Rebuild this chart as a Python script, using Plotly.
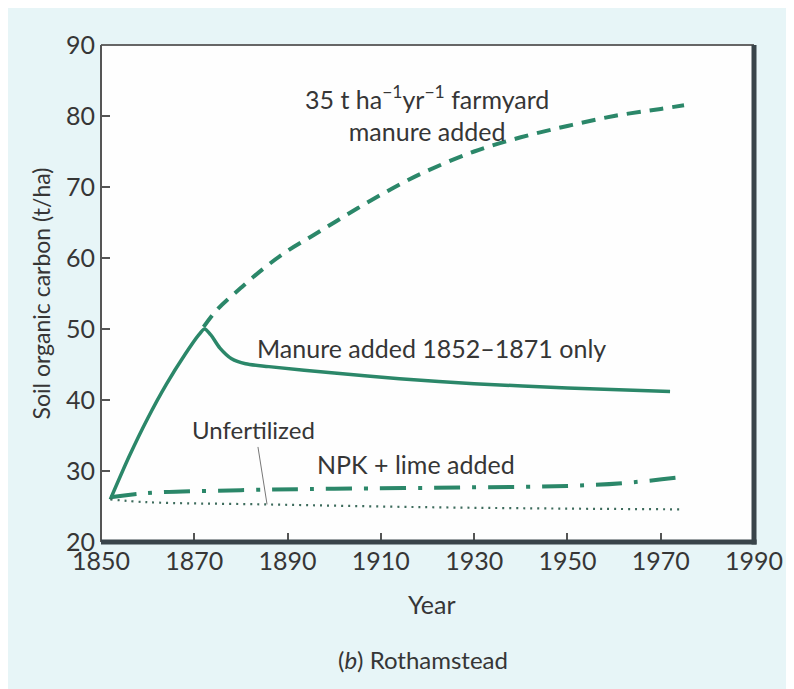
import plotly.graph_objects as go

# ---- data ----
fym_years = [1872, 1875, 1880, 1885, 1890, 1895, 1900, 1905, 1910, 1915, 1920, 1930, 1940, 1950, 1960, 1970, 1975]
fym_values = [50.3, 52.8, 55.8, 58.6, 61.0, 63.0, 65.0, 67.0, 68.9, 70.7, 72.3, 75.0, 77.0, 78.6, 80.0, 81.0, 81.5]

only_years = [1852, 1856, 1860, 1864, 1868, 1871, 1872.2, 1873.5, 1875.5, 1878, 1881, 1886, 1900, 1914, 1930, 1950, 1972]
only_values = [26.0, 32.0, 37.4, 42.2, 46.4, 49.2, 50.0, 49.2, 47.3, 45.8, 45.1, 44.7, 43.8, 43.0, 42.3, 41.7, 41.2]

npk_years = [1852, 1860, 1880, 1900, 1930, 1950, 1962, 1974]
npk_values = [26.3, 26.9, 27.3, 27.5, 27.7, 27.9, 28.3, 29.1]

unf_years = [1852, 1860, 1885, 1920, 1950, 1974]
unf_values = [26.0, 25.6, 25.3, 24.9, 24.7, 24.6]

x_ticks = [1850, 1870, 1890, 1910, 1930, 1950, 1970, 1990]
y_ticks = [20, 30, 40, 50, 60, 70, 80, 90]

GREEN = "#2b8769"
TEXT = "#363636"
FONT = "Lato"

fig = go.Figure()
fig.add_trace(go.Scatter(x=fym_years, y=fym_values, mode="lines", line_shape="spline",
                         line=dict(color=GREEN, width=4, dash="14px,9px")))
fig.add_trace(go.Scatter(x=only_years, y=only_values, mode="lines", line_shape="spline",
                         line=dict(color=GREEN, width=3.5, smoothing=0.8)))
fig.add_trace(go.Scatter(x=npk_years, y=npk_values, mode="lines", line_shape="spline",
                         line=dict(color=GREEN, width=4, dash="26px,12px,4px,12px")))
fig.add_trace(go.Scatter(x=unf_years, y=unf_values, mode="lines", line_shape="spline",
                         line=dict(color="#3d6b5c", width=2.2, dash="2px,5px")))

AF = dict(size=25, color=TEXT, family=FONT)
ann = [
    dict(x=1919.9, y=80.4, text="35 t ha<sup>−1</sup>yr<sup>−1</sup> farmyard<br>manure added",
         font=AF, showarrow=False, align="center"),
    dict(x=1920.8, y=47.3, text="Manure added 1852–1871 only", font=AF, showarrow=False),
    dict(x=1917.5, y=31.0, text="NPK + lime added", font=AF, showarrow=False),
    dict(x=1885.6, y=25.3, ax=1883.6, ay=33.6, axref="x", ayref="y",
         text="", showarrow=True, arrowhead=0, arrowwidth=1, arrowcolor="#777"),
    dict(x=1882.8, y=35.8, text="Unfertilized", font=dict(size=24, color=TEXT, family=FONT),
         showarrow=False),
    dict(x=0.507, y=-0.1247, xref="paper", yref="paper", yanchor="middle", text="Year",
         font=dict(size=25, color=TEXT, family=FONT), showarrow=False),
    dict(x=0.493, y=-0.2374, xref="paper", yref="paper", yanchor="middle", text="(<i>b</i>) Rothamstead",
         font=dict(size=24, color=TEXT, family=FONT), showarrow=False),
]

shapes = [
    dict(type="line", xref="paper", yref="paper", x0=0, x1=1, y0=1, y1=1,
         line=dict(color="#666", width=2)),
    dict(type="line", xref="paper", yref="paper", x0=0, x1=0, y0=0, y1=1,
         line=dict(color="#555", width=2)),
    dict(type="line", xref="paper", yref="paper", x0=1, x1=1, y0=-0.005, y1=1,
         line=dict(color="#39444a", width=5)),
    dict(type="line", xref="paper", yref="paper", x0=0, x1=1.004, y0=0, y1=0,
         line=dict(color="#39444a", width=5)),
]

# page body has an 8px margin, so the figure is 8px smaller and shifted
fig.update_layout(
    width=786, height=681,
    margin=dict(l=93, r=40, t=37, b=147),
    paper_bgcolor="#e7f5f7", plot_bgcolor="#fefefe",
    showlegend=False,
    font=dict(family=FONT, color=TEXT),
    annotations=ann, shapes=shapes,
    xaxis=dict(range=[1850, 1990], tickvals=x_ticks, ticks="inside", ticklen=9,
               tickcolor="#555", tickwidth=1.5, showgrid=False, zeroline=False,
               showline=False, tickfont=dict(size=25, color=TEXT, family=FONT),
               ticklabelstandoff=2),
    yaxis=dict(range=[20, 90], tickvals=y_ticks, ticks="inside", ticklen=9,
               tickcolor="#555", tickwidth=1.5, showgrid=False, zeroline=False,
               showline=False, tickfont=dict(size=25, color=TEXT, family=FONT),
               ticklabelstandoff=5,
               title=dict(text="Soil organic carbon (t/ha)", font=dict(size=23, color=TEXT, family=FONT),
                          standoff=8)),
)

fig.write_html("out.html")
